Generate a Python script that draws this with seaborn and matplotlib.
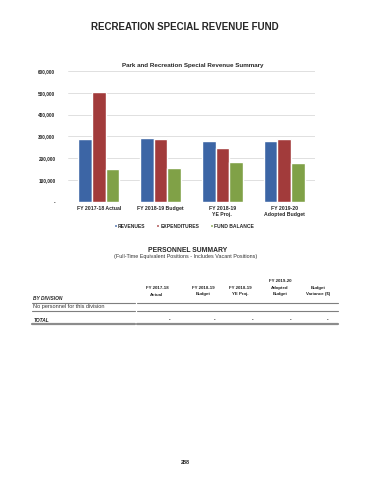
import numpy as np
import pandas as pd
import matplotlib
matplotlib.use("Agg")
import matplotlib.pyplot as plt
import seaborn as sns
from matplotlib.ticker import FuncFormatter
from matplotlib.patches import Patch

# データ
categories = ["FY 2017-18 Actual", "FY 2018-19 Budget", "FY 2018-19\nYE Proj.", "FY 2019-20\nAdopted Budget"]
series = ["REVENUES", "EXPENDITURES", "FUND BALANCE"]
revenues = [286000, 294000, 280000, 280000]
expenditures = [502000, 288000, 245000, 288000]
fund_balance = [150000, 155000, 182000, 176000]
colors = ["#3C65A5", "#A23B3B", "#80A147"]

# 人員サマリー表
table_columns = [["FY 2017-18", "Actual"],
                 ["FY 2018-19", "Budget"],
                 ["FY 2018-19", "YE Proj."],
                 ["FY 2019-20", "Adopted", "Budget"],
                 ["Budget", "Variance ($)"]]
division_rows = ["No personnel for this division"]
total_values = ["-", "-", "-", "-", "-"]

sns.set_theme(style="white")
plt.rcParams['font.family'] = ['Liberation Sans', 'DejaVu Sans']

W, H = 370, 480
fig = plt.figure(figsize=(W / 100, H / 100), dpi=100)


def fx(px):
    return px / W


def fy(py):
    return 1 - py / H


df = pd.DataFrame({
    "category": np.repeat(categories, 3),
    "series": series * len(categories),
    "value": [v for trio in zip(revenues, expenditures, fund_balance) for v in trio],
})

ax = fig.add_axes([fx(68), fy(201.7), fx(315) - fx(68), fy(71) - fy(201.7)])
sns.barplot(data=df, x="category", y="value", hue="series", hue_order=series,
            order=categories, palette=colors, width=0.66, gap=0, saturation=1,
            ax=ax, legend=False, zorder=3)

ax.set_ylim(0, 600000)
ax.set_yticks(range(0, 600001, 100000))
ax.yaxis.set_major_formatter(FuncFormatter(lambda v, p: "-" if v == 0 else f"{int(v):,}"))
ax.grid(True, axis="y", color="#DADADA", linewidth=0.6, zorder=0)
ax.set_axisbelow(True)
for s in ax.spines.values():
    s.set_visible(False)
ax.tick_params(axis="y", labelsize=3.4, pad=9, length=0)
ax.tick_params(axis="x", labelsize=3.7, pad=3, length=0)
for t in ax.get_xticklabels() + ax.get_yticklabels():
    t.set_fontweight("bold")
ax.set_xlabel("")
ax.set_ylabel("")

handles = [Patch(facecolor=c, label=s) for c, s in zip(colors, series)]
ax.legend(handles=handles, loc="center", bbox_to_anchor=(fx(184), fy(226)),
          bbox_transform=fig.transFigure, ncol=3, frameon=False,
          handlelength=0.6, handleheight=0.6, handletextpad=0.2,
          columnspacing=2.2, prop={"size": 3.6, "weight": "bold"})

# タイトル
fig.text(fx(185), fy(27), "RECREATION SPECIAL REVENUE FUND", ha="center", va="center",
         fontsize=7.0, fontweight="bold")
fig.text(fx(193), fy(65), "Park and Recreation Special Revenue Summary", ha="center", va="center",
         fontsize=4.5, fontweight="bold")

# 人員サマリー
fig.text(fx(188), fy(250), "PERSONNEL SUMMARY", ha="center", va="center",
         fontsize=4.9, fontweight="bold")
fig.text(fx(185.5), fy(256.8), "(Full-Time Equivalent Positions - Includes Vacant Positions)",
         ha="center", va="center", fontsize=3.9, color="#333333")

col_x = [157, 203, 240, 280, 318]
for cx, lines in zip(col_x, table_columns):
    for i, line in enumerate(reversed(lines)):
        fig.text(fx(cx), fy(294.5 - i * 6.5), line, ha="center", va="center",
                 fontsize=3.2, fontweight="bold", color="#222222")

fig.text(fx(33), fy(298), "BY DIVISION", ha="left", va="center",
         fontsize=3.5, fontweight="bold", fontstyle="italic")
for i, row in enumerate(division_rows):
    fig.text(fx(33), fy(306.5 + i * 9), row, ha="left", va="center",
             fontsize=4.0, color="#333333")
fig.text(fx(34), fy(320), "TOTAL", ha="left", va="center",
         fontsize=3.5, fontweight="bold", fontstyle="italic")

dash_x = [170, 215, 253, 291, 328]
for dx, val in zip(dash_x, total_values):
    fig.text(fx(dx), fy(320), val, ha="center", va="center", fontsize=3.3, fontweight="bold")

for yy, lw, col in [(302.5, 0.8, "#7F7F7F"), (311, 0.8, "#7F7F7F"), (324, 1.6, "#8C8C8C")]:
    for x0, x1 in [(32, 134.5), (136.5, 338)]:
        fig.add_artist(plt.Line2D([fx(x0), fx(x1)], [fy(yy), fy(yy)], color=col, linewidth=lw,
                                  transform=fig.transFigure))

fig.text(fx(185), fy(462), "288", ha="center", va="center", fontsize=4.0, fontweight="bold")

fig.savefig("out.png", dpi=100)
plt.close(fig)
